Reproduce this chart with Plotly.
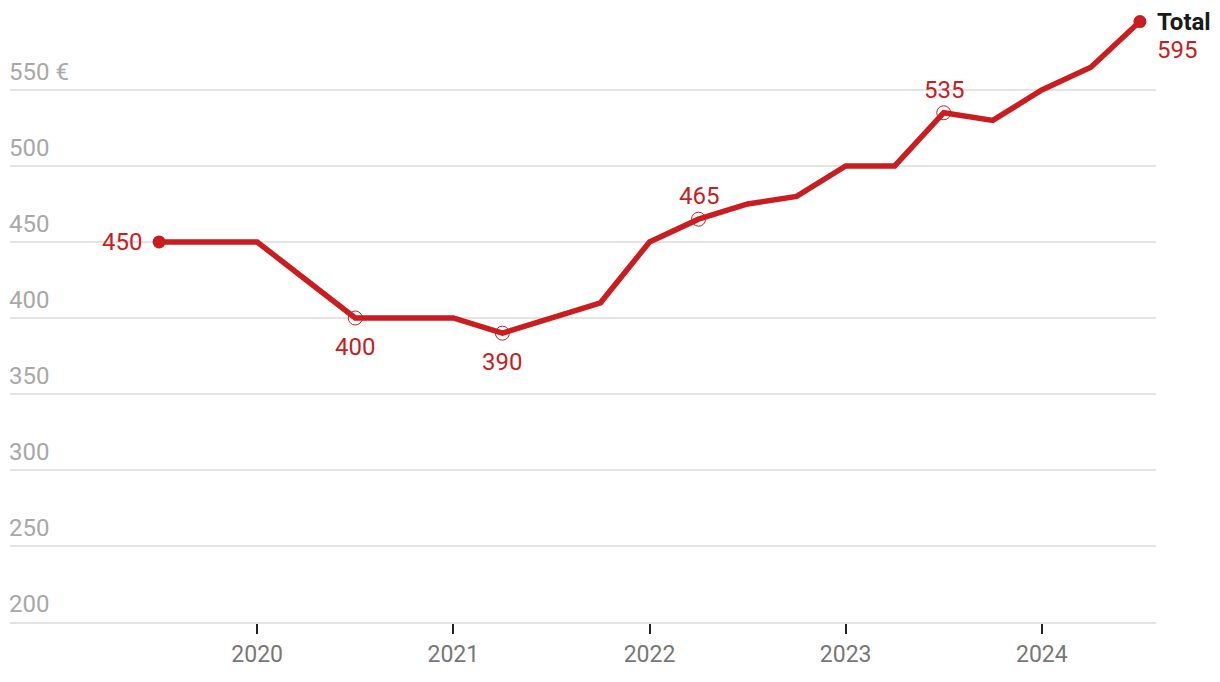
import plotly.graph_objects as go

quarters = [2019.5, 2019.75, 2020.0, 2020.25, 2020.5, 2020.75, 2021.0, 2021.25,
            2021.5, 2021.75, 2022.0, 2022.25, 2022.5, 2022.75, 2023.0, 2023.25,
            2023.5, 2023.75, 2024.0, 2024.25, 2024.5]
values = [450, 450, 450, 425, 400, 400, 400, 390,
          400, 410, 450, 465, 475, 480, 500, 500,
          535, 530, 550, 565, 595]

y_ticks = [200, 250, 300, 350, 400, 450, 500, 550]
y_tick_text = ["200", "250", "300", "350", "400", "450", "500", "550 €"]
x_ticks = [2020, 2021, 2022, 2023, 2024]
x_tick_text = ["2020", "2021", "2022", "2023", "2024"]

# highlighted points: (index, vertical label shift)
highlight_idx = [4, 7, 11, 16]
highlight_shift = [-29, -29, 23, 23]

RED = "#c91d1f"
FONT = "Roboto"
FS = 24

fig = go.Figure()
fig.add_trace(go.Scatter(
    x=quarters, y=values, mode="lines",
    line=dict(color=RED, width=5.5), hoverinfo="skip", showlegend=False))

fig.add_trace(go.Scatter(
    x=[quarters[i] for i in highlight_idx], y=[values[i] for i in highlight_idx],
    mode="markers",
    marker=dict(size=14, color="rgba(0,0,0,0)", line=dict(color=RED, width=1)),
    showlegend=False, hoverinfo="skip"))

for i, s in zip(highlight_idx, highlight_shift):
    fig.add_annotation(x=quarters[i], y=values[i], xref="x", yref="y",
                       text=str(values[i]), showarrow=False, xanchor="center",
                       yanchor="middle", yshift=s,
                       font=dict(family=FONT, size=FS, color=RED))

fig.add_trace(go.Scatter(
    x=[quarters[0], quarters[-1]], y=[values[0], values[-1]], mode="markers",
    marker=dict(size=13, color=RED),
    showlegend=False, hoverinfo="skip"))

fig.add_annotation(x=quarters[0], y=values[0], xref="x", yref="y",
                   text=str(values[0]), showarrow=False, xanchor="right", yanchor="middle",
                   xshift=-15, font=dict(family=FONT, size=FS, color=RED))
fig.add_annotation(x=quarters[-1], y=values[-1], xref="x", yref="y",
                   text="<b>Total</b>", showarrow=False, xanchor="left", yanchor="middle",
                   xshift=15, yshift=0, font=dict(family=FONT, size=FS, color="#1a1a1a"))
fig.add_annotation(x=quarters[-1], y=values[-1], xref="x", yref="y",
                   text=str(values[-1]), showarrow=False, xanchor="left", yanchor="middle",
                   xshift=15, yshift=-28, font=dict(family=FONT, size=FS, color=RED))

fig.update_layout(
    width=1212, height=674,
    margin=dict(l=2, r=64, t=2, b=60),
    paper_bgcolor="white", plot_bgcolor="white",
    font=dict(family=FONT),
    xaxis=dict(
        range=[2018.74, 2024.582], tickvals=x_ticks, ticktext=x_tick_text,
        showgrid=False, zeroline=False, showline=True, linecolor="#e3e3e3", linewidth=2,
        ticks="outside", ticklen=10, tickwidth=2, tickcolor="#222",
        tickfont=dict(family=FONT, size=23, color="#777"),
    ),
    yaxis=dict(
        range=[200, 602.6], tickvals=y_ticks, ticktext=y_tick_text,
        showgrid=True, gridcolor="#e3e3e3", gridwidth=2, zeroline=False, showline=False,
        ticklabelposition="inside top", ticklabelstandoff=-4, ticklabelshift=-2,
        tickfont=dict(family=FONT, size=FS, color="#a8a8a8"),
    ),
)

fig.write_html("out.html")
